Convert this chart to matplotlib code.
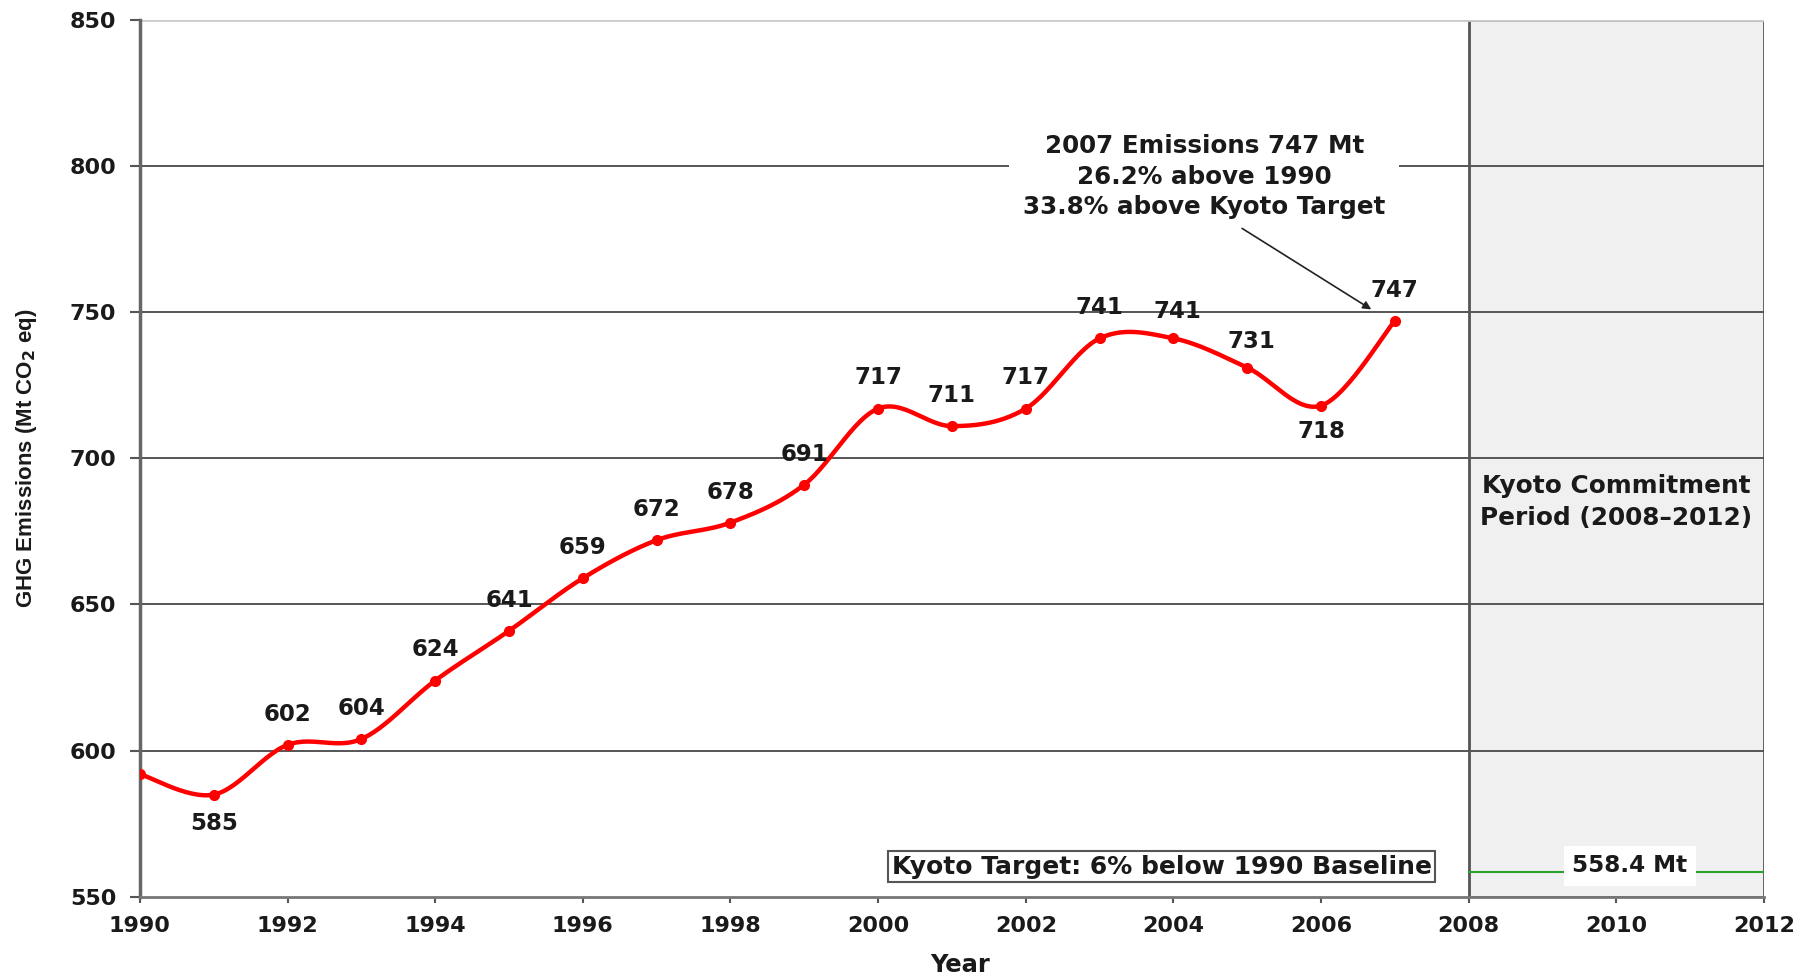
import numpy as np
import matplotlib.pyplot as plt
from matplotlib.patches import Rectangle

plt.rcParams['font.family'] = ['DejaVu Sans']
plt.rcParams['font.weight'] = 'bold'

years = np.arange(1990, 2008)
emissions = np.array([592, 585, 602, 604, 624, 641, 659, 672, 678, 691,
                      717, 711, 717, 741, 741, 731, 718, 747])
# value label offsets (points) from each marker, None = no label
label_off = [None, (0, -21), (0, 22), (0, 22), (0, 22), (0, 22), (0, 22), (0, 22),
             (0, 22), (0, 22), (0, 22), (0, 22), (0, 22), (0, 22), (3, 19),
             (3, 19), (0, -18.5), (0, 22)]
kyoto_target = 558.4
commit_start, commit_end = 2008, 2012


def smooth(x, y, n=30):
    # bezier smoothing like a spreadsheet "smoothed line"
    px = np.concatenate([[x[0]], x, [x[-1]]])
    py = np.concatenate([[y[0]], y, [y[-1]]])
    xs, ys = [], []
    t = np.linspace(0, 1, n)
    for i in range(1, len(px) - 2):
        p0 = np.array([px[i], py[i]])
        p3 = np.array([px[i + 1], py[i + 1]])
        p1 = p0 + (p3 - np.array([px[i - 1], py[i - 1]])) / 6
        p2 = p3 - (np.array([px[i + 2], py[i + 2]]) - p0) / 6
        b = ((1 - t) ** 3)[:, None] * p0 + (3 * (1 - t) ** 2 * t)[:, None] * p1 \
            + (3 * (1 - t) * t ** 2)[:, None] * p2 + (t ** 3)[:, None] * p3
        xs.append(b[:, 0])
        ys.append(b[:, 1])
    return np.concatenate(xs), np.concatenate(ys)


fig = plt.figure(figsize=(18.1, 9.74), dpi=100)
ax = fig.add_axes([0.0773, 0.0791, 0.8973, 0.9008])
ax.set_xlim(1990, 2012)
ax.set_ylim(550, 850)

ax.add_patch(Rectangle((commit_start, 550), commit_end - commit_start, 300,
                       facecolor='#f0f0f0', edgecolor='#555555', lw=2, zorder=0.5))
for yv in range(600, 850, 50):
    ax.axhline(yv, color='#555555', lw=1.4, zorder=1)
ax.axhline(850, color='#cccccc', lw=2, zorder=1)

sx, sy = smooth(years.astype(float), emissions.astype(float))
ax.plot(sx, sy, color='#ff0000', lw=3.2, zorder=3)
ax.plot(years, emissions, 'o', color='#ff0000', ms=7, zorder=3)

for x, y, off in zip(years, emissions, label_off):
    if off is None:
        continue
    ax.annotate(str(y), (x, y), xytext=off, textcoords='offset points',
                ha='center', va='center', fontsize=16.5, color='#1a1a1a', zorder=4)

ax.plot([commit_start, commit_end], [kyoto_target, kyoto_target], color='#2ca02c',
        lw=1.5, zorder=2)
ax.text(2010.18, 560.6, '558.4 Mt', ha='center', va='center', fontsize=16.7,
        color='#1a1a1a', zorder=4,
        bbox=dict(facecolor='white', edgecolor='none', pad=6))
ax.text(2010, 685.1, 'Kyoto Commitment\nPeriod (2008\u20132012)', ha='center',
        va='center', fontsize=17.8, color='#1a1a1a', linespacing=1.42, zorder=4)
ax.text(2003.84, 560.4, 'Kyoto Target: 6% below 1990 Baseline', ha='center',
        va='center', fontsize=18, color='#1a1a1a', zorder=4,
        bbox=dict(boxstyle='square,pad=0.15', facecolor='white',
                  edgecolor='#555555', lw=1.5))

ax.text(2004.42, 796.3, '2007 Emissions 747 Mt\n26.2% above 1990\n33.8% above Kyoto Target',
        ha='center', va='center', fontsize=17.7, color='#1a1a1a',
        linespacing=1.36, zorder=4,
        bbox=dict(facecolor='white', edgecolor='none', pad=10))
ax.annotate('', xy=(2006.68, 750.9), xytext=(2004.93, 778.6), zorder=5,
            arrowprops=dict(arrowstyle='-|>', color='#222222', lw=1.2,
                            mutation_scale=12, shrinkA=0, shrinkB=0))

for s in ['top', 'right']:
    ax.spines[s].set_visible(False)
ax.spines['left'].set_color('#666666')
ax.spines['left'].set_linewidth(2.5)
ax.spines['bottom'].set_color('#777777')
ax.spines['bottom'].set_linewidth(2)

ax.set_xticks(range(1990, 2013, 2))
ax.set_yticks(range(550, 851, 50))
ax.tick_params(axis='both', labelsize=16, colors='#555555', labelcolor='#1a1a1a')
ax.tick_params(axis='y', length=7, width=1.5, pad=10)
ax.tick_params(axis='x', length=4, width=1.5, pad=10)

ax.set_xlabel('Year', fontsize=17.5, fontweight='bold', color='#1a1a1a')
ax.xaxis.set_label_coords(0.505, -0.064)
ax.set_ylabel('GHG Emissions (Mt CO$_2$ eq)', fontsize=16, fontweight='bold',
              color='#1a1a1a', family=['Liberation Sans', 'DejaVu Sans'])
ax.yaxis.label.set_va('center')
ax.yaxis.set_label_coords(-0.0696, 0.5)

fig.savefig('out.png', dpi=100)
